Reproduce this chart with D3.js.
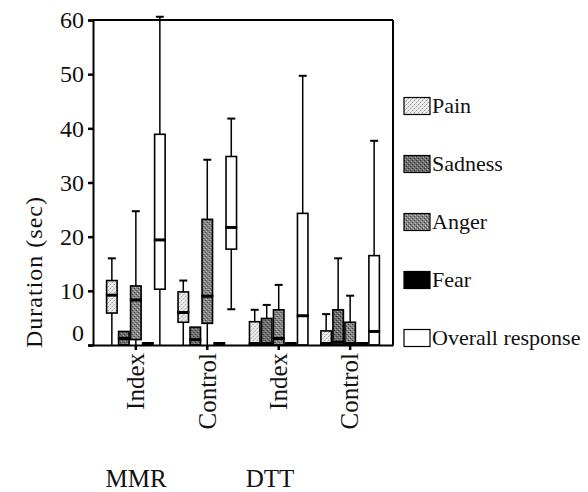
<!DOCTYPE html>
<html>
<head>
<meta charset="utf-8">
<script src="https://cdn.jsdelivr.net/npm/d3@7"></script>
<style>
  body { margin: 0; background: #fff; }
</style>
</head>
<body>
<div id="chart"></div>
<script>
const groups = ["MMR Index", "MMR Control", "DTT Index", "DTT Control"];
const groupLabels = ["Index", "Control", "Index", "Control"];
const studies = ["MMR", "DTT"];
const emotions = ["Pain", "Sadness", "Anger", "Fear", "Overall response"];
const yTicks = [0, 10, 20, 30, 40, 50, 60];

// [min, q1, median, q3, max] per group
const pain = [[0, 5.9, 9.2, 11.9, 16.0], [0, 4.2, 6.0, 9.8, 11.9], [0, 0, 0, 4.3, 6.5], [0, 0, 0, 2.6, 5.7]];
const sadness = [[0, 0, 1.2, 2.5, 2.5], [0, 0, 1.0, 3.3, 3.3], [0, 0, 0, 4.9, 7.4], [0, 0, 0.5, 6.5, 16.0]];
const anger = [[0, 1.0, 8.3, 10.9, 24.7], [0, 4.0, 9.0, 23.2, 34.2], [0, 0, 1.2, 6.5, 11.1], [0, 0, 0, 4.2, 9.1]];
const fear = [[0, 0, 0, 0, 0], [0, 0, 0, 0, 0], [0, 0, 0, 0, 0], [0, 0, 0, 0, 0]];
const overall = [[0, 10.3, 19.4, 38.9, 60.6], [6.6, 17.7, 21.7, 34.8, 41.8], [0, 0, 5.4, 24.3, 49.7], [0, 0, 2.5, 16.5, 37.7]];

const series = [pain, sadness, anger, fear, overall];

const FONT = '"Liberation Serif"';

const margin = { top: 20, right: 195, bottom: 147, left: 93 };
const width = 588 - margin.left - margin.right;
const height = 492 - margin.top - margin.bottom;

const svg = d3
  .select("#chart")
  .append("svg")
  .attr("width", 588)
  .attr("height", 492);

// textures for the fills
const defs = svg.append("defs");
function texture(id, base, dot, dot2) {
  const p = defs
    .append("pattern")
    .attr("id", id)
    .attr("patternUnits", "userSpaceOnUse")
    .attr("width", 4)
    .attr("height", 4);
  p.append("rect").attr("width", 4).attr("height", 4).attr("fill", base);
  p.append("rect").attr("x", 0).attr("y", 0).attr("width", 1).attr("height", 1).attr("fill", dot);
  p.append("rect").attr("x", 2).attr("y", 2).attr("width", 1).attr("height", 1).attr("fill", dot);
  p.append("rect").attr("x", 3).attr("y", 1).attr("width", 1).attr("height", 1).attr("fill", dot2);
  p.append("rect").attr("x", 1).attr("y", 3).attr("width", 1).attr("height", 1).attr("fill", dot2);
}
texture("tex-pain", "#ececec", "#9a9a9a", "#c8c8c8");
texture("tex-sad", "#6e6e6e", "#2a2a2a", "#a8a8a8");
texture("tex-anger", "#858585", "#3a3a3a", "#c4c4c4");

const fills = ["url(#tex-pain)", "url(#tex-sad)", "url(#tex-anger)", "#000", "#fff"];

const g = svg.append("g").attr("transform", `translate(${margin.left},${margin.top})`);

const x0 = d3.scaleBand().domain(groups).range([0, width]).paddingInner(0.16).paddingOuter(0.18);
const x1 = d3.scaleBand().domain(emotions).range([0, x0.bandwidth()]);
const y = d3.scaleLinear().domain([0, 60]).range([height, 0]);

// frame (top and right)
g.append("line").attr("x1", 0).attr("x2", width).attr("y1", 0).attr("y2", 0)
  .attr("stroke", "#000").attr("stroke-width", 2);
g.append("line").attr("x1", width).attr("x2", width).attr("y1", 0).attr("y2", height)
  .attr("stroke", "#000").attr("stroke-width", 2);

// boxes
const boxes = [];
groups.forEach((grp, gi) => {
  emotions.forEach((em, ei) => {
    const s = series[ei][gi];
    boxes.push({ grp, em, ei, min: s[0], q1: s[1], med: s[2], q3: s[3], max: s[4] });
  });
});

const bw = x1.bandwidth();
const box = g
  .selectAll(".box")
  .data(boxes)
  .enter()
  .append("g")
  .attr("class", "box")
  .attr("transform", (d) => `translate(${x0(d.grp) + x1(d.em)},0)`);

// whiskers
box.filter((d) => d.max > d.q3).append("line")
  .attr("x1", bw / 2).attr("x2", bw / 2)
  .attr("y1", (d) => y(d.max)).attr("y2", (d) => y(d.q3))
  .attr("stroke", "#000").attr("stroke-width", 1.5);
box.filter((d) => d.max > d.q3).append("line")
  .attr("x1", bw / 2 - 4).attr("x2", bw / 2 + 4)
  .attr("y1", (d) => y(d.max)).attr("y2", (d) => y(d.max))
  .attr("stroke", "#000").attr("stroke-width", 2);
box.filter((d) => d.min < d.q1).append("line")
  .attr("x1", bw / 2).attr("x2", bw / 2)
  .attr("y1", (d) => y(d.q1)).attr("y2", (d) => y(d.min))
  .attr("stroke", "#000").attr("stroke-width", 1.5);
box.filter((d) => d.min < d.q1 && d.min > 0).append("line")
  .attr("x1", bw / 2 - 4).attr("x2", bw / 2 + 4)
  .attr("y1", (d) => y(d.min)).attr("y2", (d) => y(d.min))
  .attr("stroke", "#000").attr("stroke-width", 2);

box.append("rect")
  .attr("x", 0.75)
  .attr("width", bw - 1.5)
  .attr("y", (d) => y(d.q3))
  .attr("height", (d) => y(d.q1) - y(d.q3))
  .attr("fill", (d) => fills[d.ei])
  .attr("stroke", "#000")
  .attr("stroke-width", 1.6);

box.append("line")
  .attr("x1", 0).attr("x2", bw)
  .attr("y1", (d) => Math.min(y(d.med), height - 1.5))
  .attr("y2", (d) => Math.min(y(d.med), height - 1.5))
  .attr("stroke", "#000").attr("stroke-width", 3);

// axes
const yAxis = g.append("g").call(d3.axisLeft(y).tickValues(yTicks).tickSize(5).tickPadding(4));
yAxis.attr("font-family", FONT);
yAxis.select(".domain").attr("stroke-width", 2);
yAxis.selectAll(".tick line").attr("stroke-width", 2.5);
yAxis.selectAll("text")
  .style("font-family", FONT)
  .style("font-size", "24px")
  .attr("fill", "#111")
  .attr("y", (d) => (d === 0 ? -12 : 0));

const xAxis = g.append("g")
  .attr("transform", `translate(0,${height})`)
  .call(d3.axisBottom(x0).tickSize(5).tickSizeOuter(0).tickFormat((d, i) => groupLabels[i]));
xAxis.attr("font-family", FONT);
xAxis.select(".domain").attr("stroke-width", 2);
xAxis.selectAll(".tick line").attr("stroke-width", 2.5);
xAxis.selectAll("text")
  .style("font-family", FONT)
  .style("font-size", "25px")
  .attr("fill", "#111")
  .attr("text-anchor", "end")
  .attr("transform", "rotate(-90)")
  .attr("x", -8)
  .attr("y", 0)
  .attr("dy", "0.33em");

// study labels
const studyX = d3.scalePoint().domain(studies).range([136 - margin.left, 270 - margin.left]);
g.selectAll(".study")
  .data(studies)
  .enter()
  .append("text")
  .attr("class", "study")
  .attr("x", (d) => studyX(d))
  .attr("y", 487 - margin.top)
  .attr("text-anchor", "middle")
  .style("font-family", FONT)
  .style("font-size", "25px")
  .attr("fill", "#111")
  .text((d) => d);

// y title
svg.append("text")
  .attr("transform", "rotate(-90)")
  .attr("x", -272)
  .attr("y", 42)
  .attr("text-anchor", "middle")
  .style("font-family", FONT)
  .style("font-size", "24px")
  .style("letter-spacing", "1px")
  .attr("fill", "#111")
  .text("Duration (sec)");

// legend
const ly = d3.scalePoint().domain(emotions).range([106, 338]);
const leg = svg.selectAll(".legend")
  .data(emotions)
  .enter()
  .append("g")
  .attr("class", "legend")
  .attr("transform", (d) => `translate(404,${ly(d)})`);
leg.append("rect")
  .attr("x", 0).attr("y", -8.5).attr("width", 26).attr("height", 17)
  .attr("fill", (d, i) => fills[i])
  .attr("stroke", "#000").attr("stroke-width", 1.2);
leg.append("text")
  .attr("x", 28)
  .attr("y", 7)
  .style("font-family", FONT)
  .style("font-size", "22px")
  .attr("fill", "#111")
  .text((d) => d);
</script>
</body>
</html>
